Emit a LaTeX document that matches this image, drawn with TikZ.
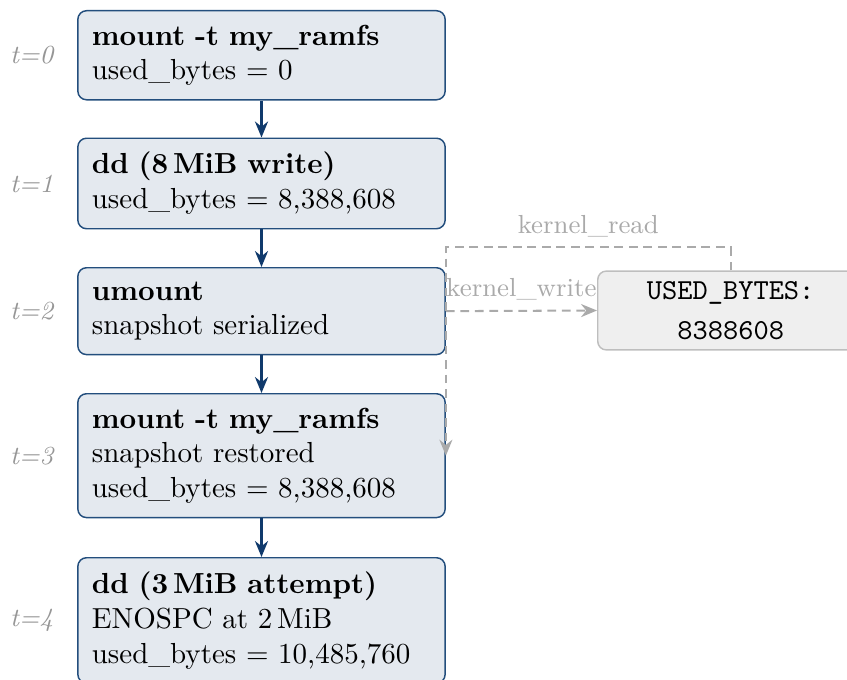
\documentclass[tikz,border=0pt]{standalone}
\usetikzlibrary{arrows.meta,positioning}

\definecolor{stagefill}{RGB}{228,233,239}
\definecolor{stagedraw}{RGB}{35,78,125}
\definecolor{flowblue}{RGB}{16,58,108}
\definecolor{kgray}{RGB}{170,170,170}
\definecolor{tgray}{RGB}{150,150,150}
\definecolor{memfill}{RGB}{239,239,239}
\definecolor{memdraw}{RGB}{190,190,190}

\begin{document}
\begin{tikzpicture}[x=0.3448pt,y=-0.3448pt,
  stage/.style={draw=stagedraw, fill=stagefill, line width=0.5pt,
    rounded corners=3pt, text width=117pt, align=left,
    inner sep=4.83pt, anchor=north},
  tlabel/.style={text=tgray, font=\small\itshape, anchor=east, inner sep=0pt},
  flow/.style={draw=flowblue, line width=1pt,
    -{Stealth[length=5.5pt,width=4.5pt]}},
  kio/.style={draw=kgray, line width=0.7pt, dash pattern=on 3pt off 2pt,
    -{Stealth[length=5.5pt,width=4.5pt]}},
  klabel/.style={text=kgray, font=\small, above},
  mem/.style={draw=memdraw, fill=memfill, line width=0.5pt,
    rounded corners=3pt, align=center, font=\ttfamily,
    minimum width=91.7pt, minimum height=27.2pt, anchor=west}]

\useasboundingbox (0,0) rectangle (847,680);

% timeline of filesystem states
\node[stage] (b0) at (261.5,10)
  {\textbf{mount -t my\_ramfs}\\ used\_bytes = 0};
\node[stage] (b1) at (261.5,137.5)
  {\textbf{dd (8\,MiB write)}\\ used\_bytes = 8,388,608};
\node[stage] (b2) at (261.5,267)
  {\textbf{umount}\\ snapshot serialized};
\node[stage] (b3) at (261.5,393)
  {\textbf{mount -t my\_ramfs}\\ snapshot restored\\ used\_bytes = 8,388,608};
\node[stage] (b4) at (261.5,557)
  {\textbf{dd (3\,MiB attempt)}\\ ENOSPC at 2\,MiB\\ used\_bytes = 10,485,760};

% time labels
\foreach \i in {0,...,4}
  \node[tlabel] (t\i) at ([xshift=-8pt]b\i.west) {t=\i};

% persistent kernel-side storage
\node[mem] (used) at (597,310.5) {USED\_BYTES:\\[1.8pt] 8388608};

% state transitions
\draw[flow] (b0) -- (b1);
\draw[flow] (b1) -- (b2);
\draw[flow] (b2) -- (b3);
\draw[flow] (b3) -- (b4);

% save / restore through the kernel
\draw[kio] (b2.east) -- node[klabel] {kernel\_write} (used.west);
\draw[kio] (used.north) -- ++(0,-23) -| node[klabel, pos=0.25] {kernel\_read} (b3.east);

\end{tikzpicture}
\end{document}
